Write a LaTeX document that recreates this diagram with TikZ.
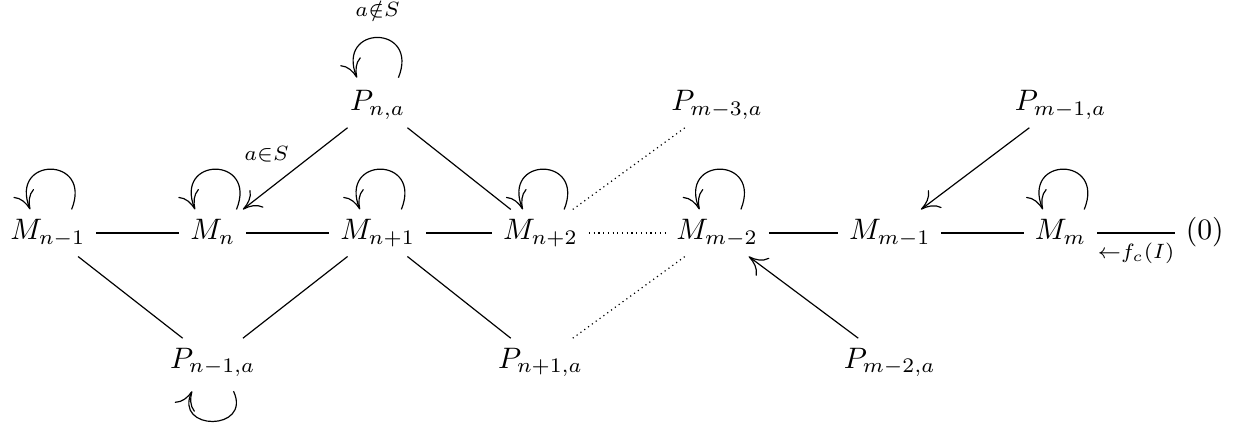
\documentclass[tikz,border=0pt]{standalone}
\usepackage{amsmath,amssymb}
\usetikzlibrary{positioning,arrows.meta}

\begin{document}
\begin{tikzpicture}[
  >={Computer Modern Rightarrow[length=6pt,width=7.5pt]},
  obj/.style      ={inner xsep=3.5pt,inner ysep=3pt,text height=7pt,text depth=2.5pt},
  faint/.style    ={dash pattern=on 0.4pt off 1.2pt},
  selfloop/.style ={->,out=68,in=112,distance=19.5pt},
  underloop/.style={->,out=-65,in=-115,distance=15pt},
  node distance   =43.5pt and 55.7pt,on grid]

% --- middle row ---
\node[obj] (Mnm1) {$M_{n-1}$};
\node[obj,right=of Mnm1] (Mn) {$M_n$};
\node[obj,right=of Mn] (Mnp1) {$M_{n+1}$};
\node[obj,right=55pt of Mnp1] (Mnp2) {$M_{n+2}$};
\node[obj,right=59.7pt of Mnp2] (Mmm2) {$M_{m-2}$};
\node[obj,right=58.3pt of Mmm2] (Mmm1) {$M_{m-1}$};
\node[obj,right=57.7pt of Mmm1] (Mm) {$M_m$};
\node[obj,right=48.7pt of Mm] (zero) {$(0)$};

\useasboundingbox ([shift={(-12.3pt,78.7pt)}]Mnm1.center) rectangle ++(411.3pt,-142.7pt);

% --- upper row ---
\node[obj,above=of Mnp1] (Pna) {$P_{n,a}$};
\node[obj,above=of Mmm2] (Pmm3a) {$P_{m-3,a}$};
\node[obj,above=of Mm] (Pmm1a) {$P_{m-1,a}$};

% --- lower row ---
\node[obj,below=of Mn] (Pnm1a) {$P_{n-1,a}$};
\node[obj,below=of Mnp2] (Pnp1a) {$P_{n+1,a}$};
\node[obj,below=of Mmm1] (Pmm2a) {$P_{m-2,a}$};

% --- loops ---
\draw[selfloop] ([xshift=8pt]Mnm1.north) to ([xshift=-6pt]Mnm1.north);
\draw[selfloop] ([xshift=8pt]Mn.north) to ([xshift=-6pt]Mn.north);
\draw[selfloop] ([xshift=8pt]Mnp1.north) to ([xshift=-6pt]Mnp1.north);
\draw[selfloop] ([xshift=8pt]Mnp2.north) to ([xshift=-6pt]Mnp2.north);
\draw[selfloop] ([xshift=8pt]Mmm2.north) to ([xshift=-6pt]Mmm2.north);
\draw[selfloop] ([xshift=8pt]Mm.north) to ([xshift=-6pt]Mm.north);
\draw[selfloop] ([xshift=7pt,yshift=1pt]Pna.north) to node[above=3pt] {$\scriptstyle a\notin S$} ([xshift=-7pt,yshift=1pt]Pna.north);
\draw[underloop] ([xshift=7pt,yshift=-2pt]Pnm1a.south) to ([xshift=-7pt,yshift=-2pt]Pnm1a.south);

% --- middle row links ---
\draw (Mnm1) -- (Mn);
\draw (Mn) -- (Mnp1);
\draw (Mnp1) -- (Mnp2);
\draw[faint] (Mnp2) -- (Mmm2);
\draw (Mmm2) -- (Mmm1);
\draw (Mmm1) -- (Mm);
\draw (Mm) -- node[below] {$\scriptstyle\leftarrow f_c(I)$} (zero);

% --- upper links ---
\draw[->] (Pna) -- node[midway,above left,inner sep=2pt] {$\scriptstyle a\in S$} (Mn);
\draw (Pna) -- (Mnp2);
\draw[faint] (Mnp2) -- (Pmm3a);
\draw[->] (Pmm1a) -- (Mmm1);

% --- lower links ---
\draw (Mnm1) -- (Pnm1a);
\draw (Mnp1) -- (Pnm1a);
\draw (Mnp1) -- (Pnp1a);
\draw[faint] (Pnp1a) -- (Mmm2);
\draw[->] (Pmm2a) -- (Mmm2);

\end{tikzpicture}
\end{document}
